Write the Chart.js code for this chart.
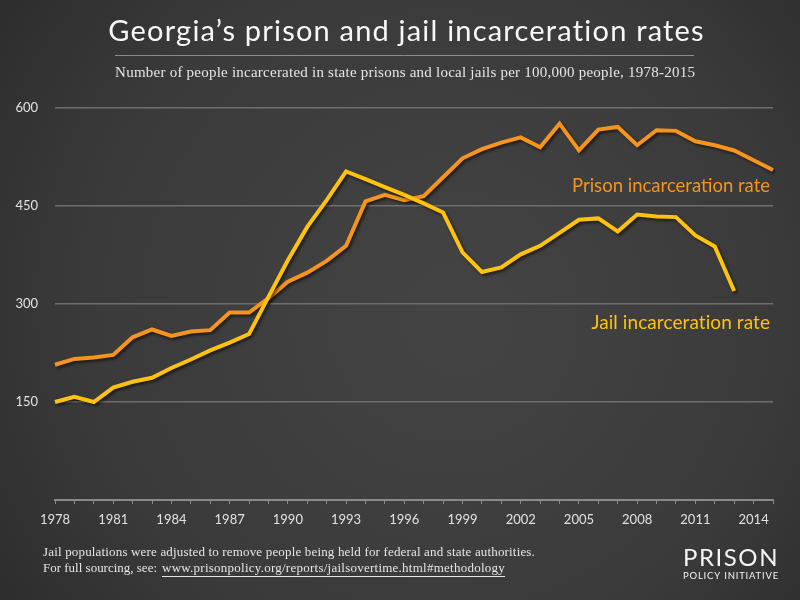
<!DOCTYPE html>
<html>
<head>
<meta charset="utf-8">
<title>Georgia's prison and jail incarceration rates</title>
<script src="https://cdn.jsdelivr.net/npm/chart.js@4"></script>
<style>
  html, body { margin: 0; padding: 0; background: #333; }
  canvas { display: block; }
</style>
</head>
<body>
<canvas id="rates" width="800" height="600"></canvas>
<script>
const years = [1978, 1979, 1980, 1981, 1982, 1983, 1984, 1985, 1986, 1987,
  1988, 1989, 1990, 1991, 1992, 1993, 1994, 1995, 1996, 1997,
  1998, 1999, 2000, 2001, 2002, 2003, 2004, 2005, 2006, 2007,
  2008, 2009, 2010, 2011, 2012, 2013, 2014, 2015];

// per 100,000 people
const prisonRate = [207, 216, 218, 222, 249, 261, 251, 258, 260, 287,
  287, 309, 334, 348, 366, 389, 457, 467, 459, 465,
  494, 523, 537, 547, 555, 540, 576, 535, 567, 571,
  543, 566, 565, 549, 543, 535, 520, 505];

const jailRate = [150, 158, 150, 172, 181, 187, 202, 215, 229, 241,
  254, 311, 367, 418, 459, 503, 491, 479, 467, 454,
  440, 379, 349, 356, 376, 389, 409, 429, 431, 411,
  437, 434, 433, 405, 388, 320, null, null];

const yTicks = [150, 300, 450, 600];

const prisonColor = '#F7941D';
const jailColor = '#FFC20E';

// draw text stretched/shrunk to a given width
function drawFit(ctx, text, x, y, width, font, align) {
  ctx.font = font;
  ctx.letterSpacing = '0px';
  const w = ctx.measureText(text).width;
  ctx.textAlign = align || 'left';
  if (w > width) {
    ctx.fillText(text, x, y, width);
  } else {
    const s = (width - w) / text.length;
    ctx.letterSpacing = s + 'px';
    let dx = 0;
    if (align === 'center') dx = s / 2;
    if (align === 'right') dx = s;
    ctx.fillText(text, x + dx, y);
    ctx.letterSpacing = '0px';
  }
}

const background = {
  id: 'background',
  beforeDraw(chart) {
    const ctx = chart.ctx;
    const g = ctx.createRadialGradient(460, 320, 40, 420, 300, 560);
    g.addColorStop(0, '#434343');
    g.addColorStop(0.6, '#3a3a3a');
    g.addColorStop(1, '#2a2a2a');
    ctx.save();
    ctx.fillStyle = g;
    ctx.fillRect(0, 0, chart.width, chart.height);
    ctx.restore();
  }
};

const lineShadow = {
  id: 'lineShadow',
  beforeDatasetsDraw(chart) {
    const ctx = chart.ctx;
    ctx.save();
    ctx.shadowColor = 'rgba(0,0,0,0.55)';
    ctx.shadowBlur = 3;
    ctx.shadowOffsetX = 2;
    ctx.shadowOffsetY = 2;
  },
  afterDatasetsDraw(chart) {
    chart.ctx.restore();
  }
};

const texts = {
  id: 'texts',
  afterDraw(chart) {
    const ctx = chart.ctx;
    const area = chart.chartArea;
    ctx.save();
    ctx.textBaseline = 'middle';

    // title + rule + subtitle
    ctx.fillStyle = '#f7f7f7';
    drawFit(ctx, 'Georgia\u2019s prison and jail incarceration rates', 406, 32, 597, '29px Lato', 'center');
    ctx.strokeStyle = '#8c8c8c';
    ctx.lineWidth = 1;
    ctx.beginPath();
    ctx.moveTo(115, 55.5);
    ctx.lineTo(694, 55.5);
    ctx.stroke();
    ctx.fillStyle = '#e6e6e6';
    drawFit(ctx, 'Number of people incarcerated in state prisons and local jails per 100,000 people, 1978-2015', 405, 73, 580, '15px "Liberation Serif"', 'center');

    // series labels
    ctx.fillStyle = prisonColor;
    drawFit(ctx, 'Prison incarceration rate', area.right - 3, 186, 198, '19px Lato', 'right');
    ctx.fillStyle = jailColor;
    drawFit(ctx, 'Jail incarceration rate', area.right - 3, 323, 179, '19px Lato', 'right');

    // footer notes
    ctx.fillStyle = '#e6e6e6';
    drawFit(ctx, 'Jail populations were adjusted to remove people being held for federal and state authorities.', 43, 553, 492, '13px "Liberation Serif"', 'left');
    const urlX = 162;
    const urlW = 343;
    drawFit(ctx, 'For full sourcing, see:', 43, 569, 114, '13px "Liberation Serif"', 'left');
    drawFit(ctx, 'www.prisonpolicy.org/reports/jailsovertime.html#methodology', urlX, 569, urlW, '13px "Liberation Serif"', 'left');
    ctx.strokeStyle = '#e6e6e6';
    ctx.beginPath();
    ctx.moveTo(urlX, 576.5);
    ctx.lineTo(urlX + urlW, 576.5);
    ctx.stroke();

    // logo
    ctx.fillStyle = '#f4f4f4';
    drawFit(ctx, 'PRISON', 683, 558, 96, '24px Lato', 'left');
    drawFit(ctx, 'POLICY INITIATIVE', 683, 576, 96, '9.5px Lato', 'left');
    ctx.restore();
  }
};

const ctx = document.getElementById('rates').getContext('2d');
new Chart(ctx, {
  type: 'line',
  data: {
    labels: years,
    datasets: [
      {
        label: 'Jail incarceration rate',
        data: jailRate,
        borderColor: jailColor,
        borderWidth: 4,
        pointRadius: 0,
        tension: 0,
        fill: false,
        order: 0
      },
      {
        label: 'Prison incarceration rate',
        data: prisonRate,
        borderColor: prisonColor,
        borderWidth: 4,
        pointRadius: 0,
        tension: 0,
        fill: false,
        order: 1
      }
    ]
  },
  options: {
    responsive: false,
    animation: false,
    devicePixelRatio: 1,
    layout: { padding: { top: 108, right: 27, bottom: 70, left: 0 } },
    plugins: {
      legend: { display: false },
      title: { display: false },
      tooltip: { enabled: false }
    },
    scales: {
      x: {
        type: 'category',
        grid: {
          drawOnChartArea: false,
          drawTicks: true,
          tickLength: 4,
          color: '#8a8a8a',
          lineWidth: 1
        },
        border: { display: true, color: '#8a8a8a', width: 2 },
        ticks: {
          autoSkip: false,
          maxRotation: 0,
          minRotation: 0,
          padding: 8,
          color: '#e2e2e2',
          font: { family: 'Lato', size: 13 },
          callback: (v, i) => ((years[i] - years[0]) % 3 === 0 ? String(years[i]) : '')
        },
        afterFit: s => { s.height = 30; }
      },
      y: {
        min: 0,
        max: 600,
        afterBuildTicks: s => { s.ticks = [0].concat(yTicks).map(v => ({ value: v })); },
        grid: {
          drawTicks: false,
          color: c => (c.tick && c.tick.value === 0 ? 'rgba(0,0,0,0)' : '#6e6e6e'),
          lineWidth: 1.5
        },
        border: { display: false },
        ticks: {
          padding: 17,
          color: '#e2e2e2',
          font: { family: 'Lato', size: 13 },
          callback: v => (v === 0 ? '' : v)
        },
        afterFit: s => { s.width = 55; }
      }
    }
  },
  plugins: [background, lineShadow, texts]
});
</script>
</body>
</html>
